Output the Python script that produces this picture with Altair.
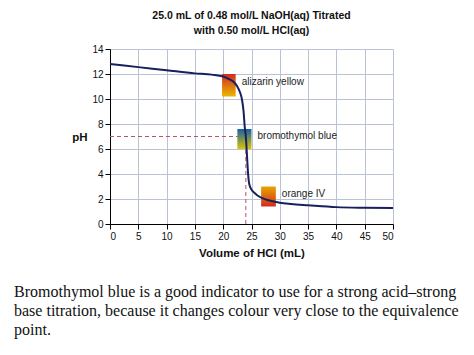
import altair as alt
import pandas as pd

# Titration curve
volume = [0, 5, 10, 15, 18, 20, 21, 22, 22.5, 23, 23.3, 23.6, 23.8, 24.0, 24.2, 24.4, 24.6, 25, 25.5, 26, 27, 28, 30, 32, 35, 40, 45, 50]
ph = [12.8, 12.55, 12.3, 12.05, 11.95, 11.8, 11.6, 11.3, 11.0, 10.5, 10.0, 9.0, 7.8, 7.0, 5.5, 4.0, 3.2, 2.75, 2.5, 2.3, 2.05, 1.9, 1.7, 1.6, 1.5, 1.35, 1.3, 1.28]

# Indicator boxes
ind_names = ["alizarin yellow", "bromothymol blue", "orange IV"]
ind_v0 = [19.8, 22.5, 26.7]
ind_v1 = [22.2, 25.0, 29.3]
ind_ph_lo = [10.2, 6.0, 1.4]
ind_ph_hi = [12.0, 7.6, 3.0]
ind_top = ["#d22a1e", "#1560a8", "#e6a600"]
ind_bot = ["#e9b800", "#dcc400", "#d42a1e"]

equiv_volume = 24.0
equiv_ph = 7.0

x_ticks = list(range(0, 51, 5))
y_ticks = list(range(0, 15, 2))

title_lines = ["25.0 mL of 0.48 mol/L NaOH(aq) Titrated", "with 0.50 mol/L HCl(aq)"]
caption_lines = [
    "Bromothymol blue is a good indicator to use for a strong acid\u2013strong",
    "base titration, because it changes colour very close to the equivalence",
    "point.",
]

curve = pd.DataFrame({"v": volume, "ph": ph})
ind = pd.DataFrame({"name": ind_names, "v0": ind_v0, "v1": ind_v1, "lo": ind_ph_lo, "hi": ind_ph_hi})
ind["mid"] = (ind["lo"] + ind["hi"]) / 2

xs = alt.Scale(domain=[0, 50], nice=False)
ys = alt.Scale(domain=[0, 14], nice=False)
xax = alt.Axis(values=x_ticks, title="Volume of HCl (mL)", grid=True, labelOverlap=False)
yax = alt.Axis(values=y_ticks, title="pH", grid=True, titleAngle=0, labelOverlap=False,
               titleX=-23, titleY=88, titleAlign="right", titleBaseline="middle")

dash_df = pd.DataFrame({"v": [0, equiv_volume], "v2": [equiv_volume, equiv_volume],
                        "p": [equiv_ph, 0], "p2": [equiv_ph, equiv_ph]})
dashes = alt.Chart(dash_df).mark_rule(color="#b4546a", strokeDash=[4, 3], strokeWidth=1).encode(
    x=alt.X("v:Q", scale=xs, axis=xax), x2="v2:Q", y=alt.Y("p:Q", scale=ys, axis=yax), y2="p2:Q"
)

boxes = []
for i in range(len(ind_names)):
    grad = alt.Gradient(gradient="linear", x1=0, x2=0, y1=0, y2=1,
                        stops=[alt.GradientStop(color=ind_top[i], offset=0),
                               alt.GradientStop(color=ind_bot[i], offset=1)])
    boxes.append(alt.Chart(ind.iloc[[i]]).mark_rect(color=grad).encode(
        x=alt.X("v0:Q", scale=xs, axis=xax), x2="v1:Q",
        y=alt.Y("hi:Q", scale=ys, axis=yax), y2="lo:Q"))

line = alt.Chart(curve).mark_line(color="#16205e", strokeWidth=2, interpolate="monotone").encode(
    x=alt.X("v:Q", scale=xs, axis=xax),
    y=alt.Y("ph:Q", scale=ys, axis=yax),
)

labels = alt.Chart(ind).mark_text(align="left", baseline="middle", dx=6, dy=-3,
                                  font="Liberation Sans", fontSize=10, color="#222222").encode(
    x=alt.X("v1:Q", scale=xs, axis=xax), y=alt.Y("mid:Q", scale=ys, axis=yax), text="name:N")

caption = alt.Chart(pd.DataFrame({"a": [0]})).mark_text(
    align="left", baseline="alphabetic", font="Liberation Serif", fontSize=16,
    lineHeight=19, color="#111111").encode(
    x=alt.value(14 - 110), y=alt.value(297 - 49), text=alt.value(caption_lines))

chart = alt.layer(dashes, *boxes, line, labels, caption).properties(
    width=283, height=175,
    title=alt.TitleParams(text=title_lines, anchor="middle", fontSize=10.5, fontWeight="bold",
                          font="Liberation Sans", color="#111111", offset=8, lineHeight=15),
    autosize=alt.AutoSizeParams(type="none"),
    padding={"left": 110, "top": 49, "right": 81, "bottom": 131},
).configure_view(stroke=None).configure_axis(
    gridColor="#b9c3d3", gridWidth=1, domainColor="#000000", tickColor="#000000",
    tickSize=5, labelFont="Liberation Sans", labelFontSize=10, labelColor="#111111",
    titleFont="Liberation Sans", titleFontSize=11.5, titleFontWeight="bold", titleColor="#111111",
    labelPadding=2,
).configure_axisX(titlePadding=6, domain=True).configure_axisY(domain=True)

chart.save("out.html", embed_options={"renderer": "svg", "actions": False})
